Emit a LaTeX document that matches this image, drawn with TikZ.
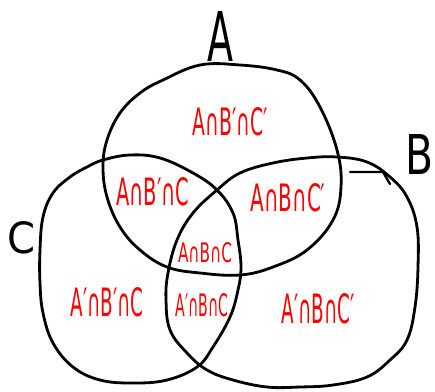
\documentclass[tikz,border=0pt]{standalone}
\usepackage{fontspec}
\setmainfont{DejaVu Sans}
\newcommand{\fitbox}[3]{\resizebox{#1}{#2}{#3}}
\begin{document}
\begin{tikzpicture}[x=1pt,y=-1pt,
  ring/.style={line width=2.8pt, line join=round, line cap=round},
  setlab/.style={inner sep=0pt, text=red},
  biglab/.style={inner sep=0pt, text=black}]
\useasboundingbox (0,0) rectangle (435,391);
% circle A
\draw[ring] plot[smooth cycle, tension=0.65] coordinates {
 (200,65) (240,65) (277,70) (300,80) (320,107) (337,150) (341,187) (333,220)
 (307,250) (273,267) (240,275) (200,273) (167,267) (140,250) (120,227)
 (107,197) (103,167) (107,140) (120,113) (140,93) (163,80)};
% circle C
\draw[ring] plot[smooth cycle, tension=0.65] coordinates {
 (103,160) (130,155) (160,158) (193,173) (217,190) (233,213) (238,240)
 (241,267) (238,290) (230,317) (213,347) (197,367) (167,380) (133,383)
 (100,380) (73,367) (53,343) (43,313) (40,283) (40,250) (43,217) (53,193)
 (70,177) (87,167)};
% circle B
\draw[ring] plot[smooth cycle, tension=0.65] coordinates {
 (217,190) (240,173) (273,163) (307,158) (337,157) (367,162) (390,177)
 (407,197) (417,227) (418,267) (415,307) (407,340) (390,360) (367,377)
 (333,385) (300,387) (267,387) (233,380) (207,370) (187,353) (170,330)
 (166,300) (168,273) (177,240) (193,213)};
% little stroke near B
\draw[ring, line width=2.4pt] (350,172) -- (383,172) -- (390,184);
% set labels
\node[biglab] (lA) at (220,36) {\fitbox{26pt}{50pt}{A}};
\node[biglab] (lB) at (419,154) {\fitbox{28pt}{40pt}{B}};
\node[biglab] (lC) at (22,238) {\fitbox{28pt}{32pt}{C}};
% region labels
\node[setlab] (r1) at (230,122) {\fitbox{75pt}{28pt}{A∩B′∩C′}};
\node[setlab] (r2) at (153,192) {\fitbox{73pt}{28pt}{A∩B′∩C}};
\node[setlab] (r3) at (288,198) {\fitbox{75pt}{28pt}{A∩B∩C′}};
\node[setlab] (r4) at (205,253) {\fitbox{54pt}{20pt}{A∩B∩C}};
\node[setlab] (r5) at (107,302) {\fitbox{73pt}{29pt}{A′∩B′∩C}};
\node[setlab] (r6) at (202,305) {\fitbox{53pt}{23pt}{A′∩B∩C}};
\node[setlab] (r7) at (318,309) {\fitbox{73pt}{30pt}{A′∩B∩C′}};
\end{tikzpicture}
\end{document}
